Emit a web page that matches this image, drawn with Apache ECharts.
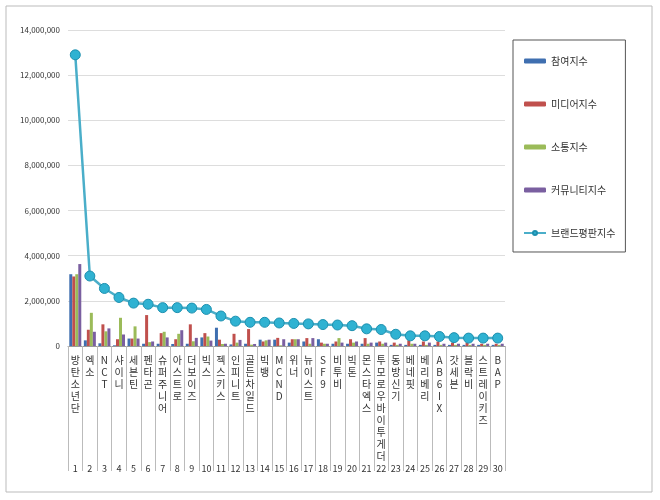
<!DOCTYPE html><html><head><meta charset="utf-8"><script src="https://cdn.jsdelivr.net/npm/echarts@6/dist/echarts.min.js"></script></head><body style="margin:0"><div id="c" style="width:660px;height:500px"></div><script>
const names=['방탄소년단','엑소','NCT','샤이니','세븐틴','펜타곤','슈퍼주니어','아스트로','더보이즈','빅스','젝스키스','인피니트','골든차일드','빅뱅','MCND','위너','뉴이스트','SF9','비투비','빅톤','몬스타엑스','투모로우바이투게더','동방신기','베네핏','베리베리','AB6IX','갓세븐','블락비','스트레이키즈','BAP'];
const nums=names.map((_,i)=>String(i+1));
const participation=[3180000,250000,120000,30000,330000,100000,100000,90000,100000,380000,810000,70000,100000,280000,280000,150000,200000,300000,100000,100000,100000,150000,50000,50000,50000,50000,50000,50000,50000,50000];
const media=[3080000,720000,960000,300000,330000,1370000,570000,300000,960000,570000,280000,540000,750000,200000,360000,300000,350000,150000,200000,300000,350000,200000,150000,250000,200000,200000,150000,150000,100000,100000];
const communication=[3180000,1470000,650000,1250000,870000,170000,630000,540000,210000,420000,90000,150000,60000,250000,30000,300000,100000,100000,350000,150000,100000,100000,50000,100000,50000,50000,50000,50000,50000,50000];
const community=[3630000,630000,780000,510000,330000,200000,380000,700000,360000,240000,100000,270000,90000,280000,300000,300000,350000,100000,150000,200000,150000,150000,100000,100000,150000,100000,100000,100000,100000,100000];
const brand=[12900000,3100000,2550000,2150000,1900000,1850000,1700000,1700000,1680000,1620000,1330000,1100000,1050000,1050000,1020000,1000000,980000,950000,930000,900000,760000,730000,520000,450000,450000,420000,370000,350000,350000,350000];
const f='Noto Sans CJK KR';
const bar=(n,d,c)=>({name:n,type:'bar',data:d,itemStyle:{color:c},barWidth:3,barGap:'0%'});
echarts.init(document.getElementById('c')).setOption({
animation:false,textStyle:{fontFamily:f},
graphic:[{type:'rect',shape:{x:6,y:6,width:646,height:486},style:{fill:'none',stroke:'#bbb'}}],
grid:{left:68,right:155,top:30,bottom:154},
legend:{orient:'vertical',left:513,top:40,width:127,height:210,padding:[16,10,14,10],itemGap:33,borderColor:'#555',borderWidth:1,itemWidth:22,itemHeight:5,textStyle:{fontSize:10,color:'#333',fontFamily:f},
 data:['참여지수','미디어지수','소통지수','커뮤니티지수','브랜드평판지수']},
xAxis:[{type:'category',data:names,axisLine:{lineStyle:{color:'#999'}},axisTick:{show:true,length:125,lineStyle:{color:'#bbb'}},
 axisLabel:{interval:0,fontSize:10,color:'#333',lineHeight:12,formatter:v=>v.split('').join('\n')}},
 {type:'category',data:nums,position:'bottom',offset:110,axisLine:{show:false},axisTick:{show:false},axisLabel:{interval:0,fontSize:9,color:'#333'}}],
yAxis:{type:'value',min:0,max:14000000,interval:2000000,axisLine:{show:false},axisTick:{show:false},
 splitLine:{lineStyle:{color:'#ddd'}},axisLabel:{fontSize:8,color:'#333',formatter:v=>v.toLocaleString('en-US')}},
series:[bar('참여지수',participation,'#3f6fb0'),bar('미디어지수',media,'#c0504d'),bar('소통지수',communication,'#9bbb59'),bar('커뮤니티지수',community,'#7a5fa0'),
 {name:'브랜드평판지수',type:'line',data:brand,lineStyle:{color:'#4aaec9',width:2.5},itemStyle:{color:'#2fb2d2',borderColor:'#1d8fae',borderWidth:1},symbol:'circle',symbolSize:10}]
});
</script></body></html>
